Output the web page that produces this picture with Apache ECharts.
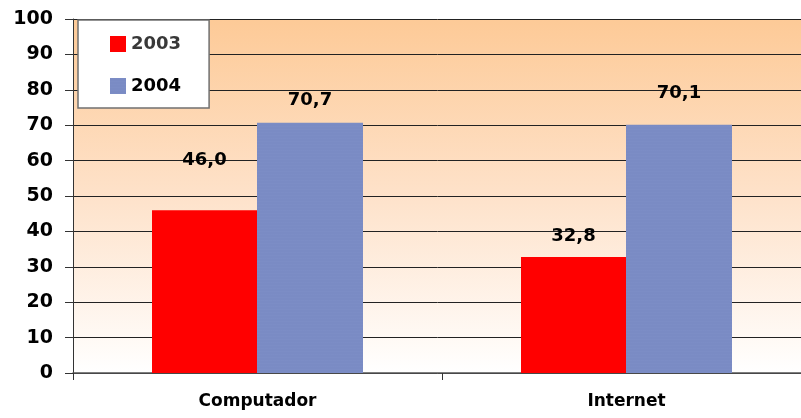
<!DOCTYPE html>
<html>
<head>
<meta charset="utf-8">
<script src="https://cdn.jsdelivr.net/npm/echarts@6/dist/echarts.min.js"></script>
<style>
html,body{margin:0;padding:0;background:#fff;}
#chart{width:801px;height:418px;}
</style>
</head>
<body>
<div id="chart"></div>
<script>
var categories = ['Computador', 'Internet'];
var seriesNames = ['2003', '2004'];
var values2003 = [46.0, 32.8];
var values2004 = [70.7, 70.1];
var yTicks = [0, 10, 20, 30, 40, 50, 60, 70, 80, 90, 100];

var FONT = 'DejaVu Sans';
var chart = echarts.init(document.getElementById('chart'));

function fmt(v) { return v.toFixed(1).replace('.', ','); }

function buildData(vals, dists) {
  return vals.map(function (v, i) {
    return { value: v, label: { distance: dists[i] } };
  });
}

var option = {
  animation: false,
  backgroundColor: '#ffffff',
  grid: {
    left: 73, top: 19, bottom: 45, width: 738,
    outerBoundsMode: 'none',
    show: true, borderWidth: 0,
    backgroundColor: {
      type: 'linear', x: 0, y: 0, x2: 0, y2: 1,
      colorStops: [
        { offset: 0, color: '#FDCA97' },
        { offset: 0.5, color: '#FEE2CA' },
        { offset: 1, color: '#FFFFFF' }
      ]
    }
  },
  legend: {
    orient: 'vertical',
    left: 78, top: 20,
    padding: [15, 28, 13, 32],
    itemGap: 24,
    itemWidth: 16, itemHeight: 16,
    backgroundColor: '#ffffff',
    borderColor: '#707070', borderWidth: 1.5,
    textStyle: { fontFamily: FONT, fontWeight: 'bold', fontSize: 18, color: '#000' },
    data: [
      { name: seriesNames[0], icon: 'rect', textStyle: { color: '#383838' } },
      { name: seriesNames[1], icon: 'rect' }
    ]
  },
  xAxis: {
    type: 'category',
    data: categories,
    axisLine: { show: true, lineStyle: { color: '#555', width: 1.5 } },
    axisTick: { show: true, length: 7, lineStyle: { color: '#333' } },
    axisLabel: { margin: 20, fontFamily: FONT, fontWeight: 'bold', fontSize: 17, color: '#000' }
  },
  yAxis: {
    type: 'value',
    min: yTicks[0], max: yTicks[yTicks.length - 1], interval: 10,
    axisLine: { show: true, lineStyle: { color: '#333', width: 1 } },
    axisTick: { show: true, length: 8, lineStyle: { color: '#333' } },
    splitLine: { lineStyle: { color: '#222', width: 1 } },
    axisLabel: { margin: 20, fontFamily: FONT, fontWeight: 'bold', fontSize: 19, color: '#000' }
  },
  series: [
    {
      name: seriesNames[0], type: 'bar',
      data: buildData(values2003, [41, 12]),
      barWidth: 105, barGap: '0%',
      itemStyle: { color: '#FF0000' },
      label: { show: true, position: 'top', formatter: function (p) { return fmt(p.value); },
        fontFamily: FONT, fontWeight: 'bold', fontSize: 18, color: '#000' }
    },
    {
      name: seriesNames[1], type: 'bar',
      data: buildData(values2004, [13, 23]),
      barWidth: 106, barGap: '0%',
      itemStyle: {
        color: '#7A8BC4',
        decal: { symbol: 'circle', symbolSize: 0.6, dashArrayX: [2, 0], dashArrayY: [1, 2], color: 'rgba(150,165,215,0.55)', rotation: 0 }
      },
      label: { show: true, position: 'top', formatter: function (p) { return fmt(p.value); },
        fontFamily: FONT, fontWeight: 'bold', fontSize: 18, color: '#000' }
    }
  ]
};
chart.setOption(option);
</script>
</body>
</html>
